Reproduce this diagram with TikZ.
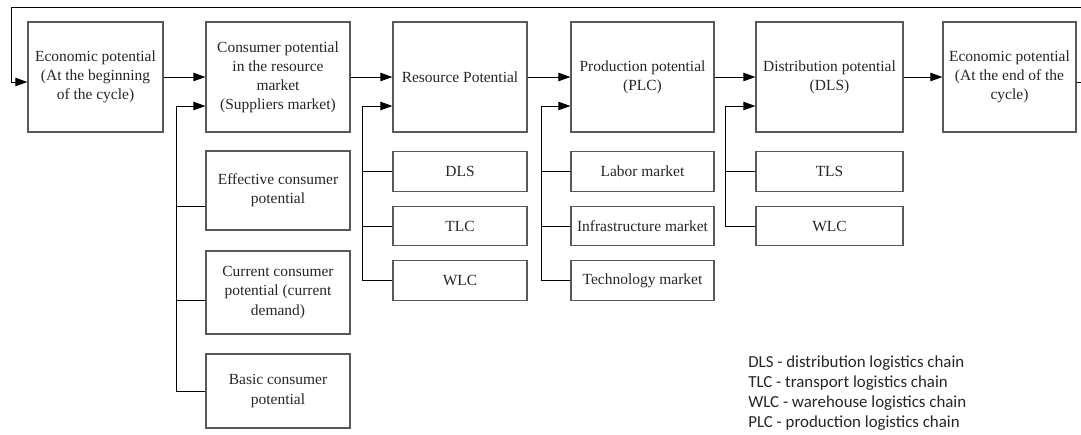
\documentclass[tikz,border=0pt]{standalone}
\usepackage{fontspec}
\setmainfont{Liberation Serif}
\newfontfamily\keyfont{Carlito}
\usetikzlibrary{arrows.meta}
\tikzset{
  arr/.style={line width=0.7pt, -{Triangle[length=3mm, width=2.1mm]}},
  lnk/.style={line width=0.7pt},
  box/.style={draw=black!65, line width=0.8pt, align=center, inner sep=1pt, text=black!85,
    font=\fontsize{11}{13.6}\selectfont},
  mainbox/.style={box, minimum height=2.75cm},
  subbox/.style={box, minimum height=0.99cm},
}
% column centres, in pixels of the layout
\def\xA{95.5}
\def\xB{278}
\def\xC{460}
\def\xD{642.5}
\def\xE{829.5}
\def\xF{1009.5}

\begin{document}
\begin{tikzpicture}[x=0.025cm, y=-0.025cm]
\useasboundingbox (0,0) rectangle (1081,435);

% main chain
\node[mainbox, minimum width=3.375cm] (eco1) at (\xA,77) {Economic potential\\(At the beginning\\of the cycle)};
\node[mainbox, minimum width=3.6cm] (cons) at (\xB,77) {Consumer potential\\in the resource\\market\\(Suppliers market)};
\node[mainbox, minimum width=3.35cm] (res) at (\xC,77) {Resource Potential};
\node[mainbox, minimum width=3.575cm] (prod) at (\xD,77) {Production potential\\(PLC)};
\node[mainbox, minimum width=3.675cm] (dist) at (\xE,77) {Distribution potential\\(DLS)};
\node[mainbox, minimum width=3.325cm] (eco2) at (\xF,77) {Economic potential\\(At the end of the\\cycle)};

\draw[arr] (eco1) -- (cons);
\draw[arr] (cons) -- (res);
\draw[arr] (res) -- (prod);
\draw[arr] (prod) -- (dist);
\draw[arr] (dist) -- (eco2);
\draw[arr] (eco2.east |- 0,82) -- (1092,82) -- (1092,7) -- (11,7) |- (eco1.west |- 0,82);

% consumer potential inputs
\node[box, minimum width=3.6cm, minimum height=1.975cm] (eff) at (\xB,190.5) {Effective consumer\\potential};
\node[box, minimum width=3.6cm, minimum height=2.075cm] (cur) at (\xB,292.5) {Current consumer\\potential (current\\demand)};
\node[box, minimum width=3.6cm, minimum height=1.85cm] (bas) at (\xB,391) {Basic consumer\\potential};
\coordinate (jB) at (176,106);
\draw[arr] (jB) -- (jB -| cons.west);
\draw[lnk] (jB) |- (bas.west);
\draw[lnk] (jB |- 0,206) -- (eff.west |- 0,206);
\draw[lnk] (jB |- 0,300) -- (cur.west |- 0,300);

% resource potential inputs
\node[subbox, minimum width=3.35cm] (dls) at (\xC,171.5) {DLS};
\node[subbox, minimum width=3.35cm] (tlc) at (\xC,226) {TLC};
\node[subbox, minimum width=3.35cm] (wlc) at (\xC,280.5) {WLC};
\coordinate (jC) at (362,106);
\draw[arr] (jC) -- (jC -| res.west);
\draw[lnk] (jC) |- (wlc.west);
\draw[lnk] (jC |- dls.west) -- (dls.west);
\draw[lnk] (jC |- tlc.west) -- (tlc.west);

% production potential inputs
\node[subbox, minimum width=3.575cm] (lab) at (\xD,171.5) {Labor market};
\node[subbox, minimum width=3.575cm] (inf) at (\xD,226) {Infrastructure market};
\node[subbox, minimum width=3.575cm] (tec) at (\xD,280.5) {Technology market};
\coordinate (jD) at (541,106);
\draw[arr] (jD) -- (jD -| prod.west);
\draw[lnk] (jD) |- (tec.west);
\draw[lnk] (jD |- lab.west) -- (lab.west);
\draw[lnk] (jD |- inf.west) -- (inf.west);

% distribution potential inputs
\node[subbox, minimum width=3.675cm] (tls) at (\xE,171.5) {TLS};
\node[subbox, minimum width=3.675cm] (wlcd) at (\xE,226) {WLC};
\coordinate (jE) at (725,106);
\draw[arr] (jE) -- (jE -| dist.west);
\draw[lnk] (jE) |- (wlcd.west);
\draw[lnk] (jE |- tls.west) -- (tls.west);

% abbreviations
\node[anchor=west, align=left, inner sep=0pt, text=black!85, font=\keyfont\fontsize{12}{14.2}\selectfont] (key) at (748,393)
  {DLS - distribution logistics chain\\TLC - transport logistics chain\\WLC - warehouse logistics chain\\PLC - production logistics chain};

\end{tikzpicture}
\end{document}
